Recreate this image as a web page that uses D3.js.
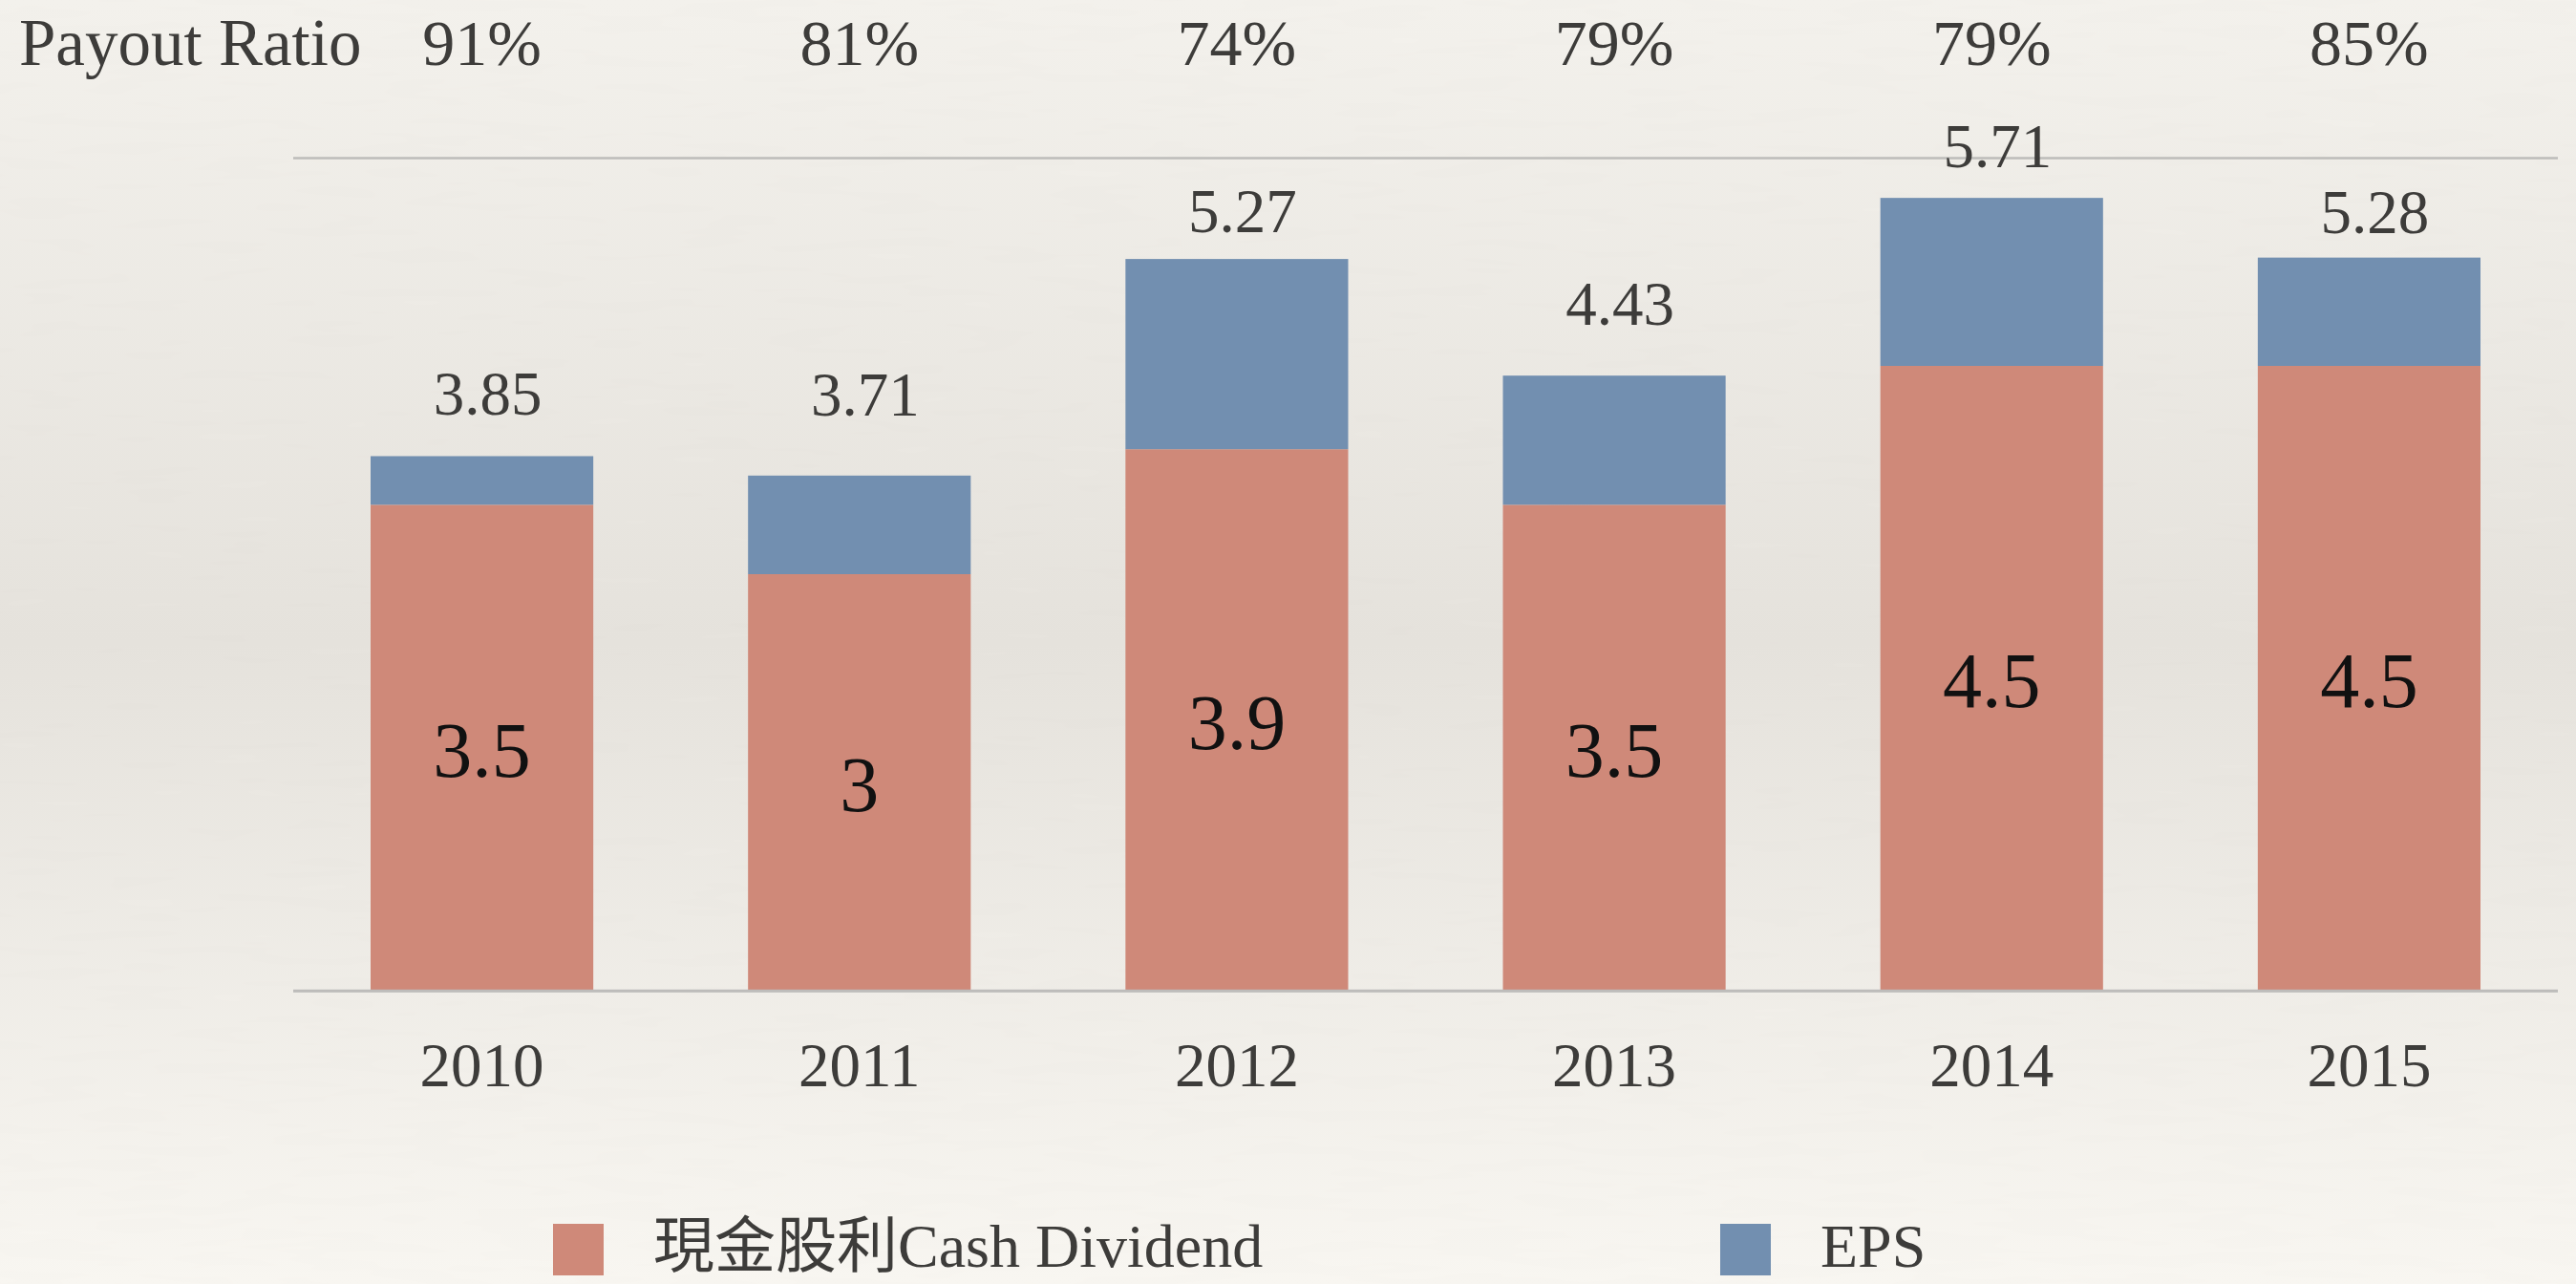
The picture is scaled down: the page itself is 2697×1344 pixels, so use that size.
<!DOCTYPE html>
<html>
<head>
<meta charset="utf-8">
<script src="https://cdn.jsdelivr.net/npm/d3@7"></script>
<style>
  html, body { margin: 0; padding: 0; overflow: hidden; }
  svg { display: block; }
</style>
</head>
<body>
<svg id="chart" width="2697" height="1344"></svg>
<script>
// data
const years = ['2010', '2011', '2012', '2013', '2014', '2015'];
const cashDividend = [3.5, 3, 3.9, 3.5, 4.5, 4.5];
const eps = [3.85, 3.71, 5.27, 4.43, 5.71, 5.28];
const payoutRatio = ['91%', '81%', '74%', '79%', '79%', '85%'];
const yTicks = [0, 6];

// how far each EPS label sits above its bar (px) - hand placed in the original
const epsLabelLift = [43, 63, 28, 53, 32, 26];

const dividendColor = '#cf8979';
const epsColor = '#728fb0';
const gridColor = '#bdbcba';
const textColor = '#3d3c3a';
const fontFamily = '"Liberation Serif", "Noto Sans CJK TC", serif';

const svg = d3.select('#chart');
const W = +svg.attr('width');
const H = +svg.attr('height');

// background paper
const defs = svg.append('defs');
const bg = defs.append('linearGradient')
  .attr('id', 'paper')
  .attr('x1', 0).attr('y1', 0).attr('x2', 0).attr('y2', 1);
bg.append('stop').attr('offset', '0%').attr('stop-color', '#f4f2ed');
bg.append('stop').attr('offset', '50%').attr('stop-color', '#e6e3dd');
bg.append('stop').attr('offset', '100%').attr('stop-color', '#f9f7f2');

const grain = defs.append('filter').attr('id', 'grain');
grain.append('feTurbulence')
  .attr('type', 'fractalNoise')
  .attr('baseFrequency', '0.01 0.08')
  .attr('numOctaves', 2)
  .attr('seed', 3);
grain.append('feColorMatrix')
  .attr('type', 'matrix')
  .attr('values', '0 0 0 0 0.45  0 0 0 0 0.43  0 0 0 0 0.4  0 0 0 0.04 0');

svg.append('rect').attr('width', W).attr('height', H).attr('fill', 'url(#paper)');
svg.append('rect').attr('width', W).attr('height', H).attr('filter', 'url(#grain)');

const margin = { top: 165, right: 19, bottom: 307, left: 307 };
const width = W - margin.left - margin.right;
const height = H - margin.top - margin.bottom;
const g = svg.append('g').attr('transform', `translate(${margin.left},${margin.top})`);

const x = d3.scaleBand()
  .domain(years)
  .range([0, width])
  .paddingInner(0.41)
  .paddingOuter(0.205);

const y = d3.scaleLinear()
  .domain([0, 6])
  .range([height, 0]);

// gridlines (only 0 and 6)
g.append('g')
  .attr('class', 'grid')
  .call(d3.axisLeft(y).tickValues(yTicks).tickSize(-width).tickFormat(''))
  .call(a => a.select('.domain').remove())
  .selectAll('line')
  .attr('stroke', gridColor)
  .attr('stroke-width', 2.5);

// stacked bars: dividend at bottom, rest of EPS on top
const rows = years.map((yr, i) => ({
  year: yr,
  dividend: cashDividend[i],
  rest: eps[i] - cashDividend[i]
}));
const series = d3.stack().keys(['dividend', 'rest'])(rows);
const colors = { dividend: dividendColor, rest: epsColor };

g.selectAll('.layer')
  .data(series)
  .enter()
  .append('g')
  .attr('class', 'layer')
  .attr('fill', d => colors[d.key])
  .selectAll('rect')
  .data(d => d)
  .enter()
  .append('rect')
  .attr('x', d => x(d.data.year))
  .attr('y', d => y(d[1]))
  .attr('width', x.bandwidth())
  .attr('height', d => y(d[0]) - y(d[1]));

// bottom axis line redrawn over the bars
g.append('line')
  .attr('x1', 0).attr('x2', width)
  .attr('y1', y(0)).attr('y2', y(0))
  .attr('stroke', gridColor)
  .attr('stroke-width', 2.5);

// dividend values inside the red part
g.selectAll('.div-label')
  .data(years)
  .enter()
  .append('text')
  .attr('class', 'div-label')
  .attr('x', d => x(d) + x.bandwidth() / 2)
  .attr('y', (d, i) => y(cashDividend[i] / 2) + 30)
  .attr('text-anchor', 'middle')
  .style('font-family', fontFamily)
  .style('font-size', '82px')
  .style('fill', '#111')
  .text((d, i) => cashDividend[i]);

// EPS values above bars
g.selectAll('.eps-label')
  .data(years)
  .enter()
  .append('text')
  .attr('class', 'eps-label')
  .attr('x', d => x(d) + x.bandwidth() / 2 + 6)
  .attr('y', (d, i) => y(eps[i]) - epsLabelLift[i])
  .attr('text-anchor', 'middle')
  .style('font-family', fontFamily)
  .style('font-size', '65px')
  .style('fill', textColor)
  .text((d, i) => eps[i].toFixed(2));

// year labels
g.append('g')
  .attr('transform', `translate(0,${height})`)
  .call(d3.axisBottom(x).tickSize(0).tickPadding(0))
  .call(a => a.select('.domain').remove())
  .selectAll('text')
  .attr('y', 100)
  .attr('dy', 0)
  .style('font-family', fontFamily)
  .style('font-size', '65px')
  .style('fill', textColor);

// payout ratio row
svg.append('text')
  .attr('x', 20)
  .attr('y', 68)
  .style('font-family', fontFamily)
  .style('font-size', '69px')
  .style('fill', textColor)
  .text('Payout Ratio');

svg.selectAll('.payout')
  .data(years)
  .enter()
  .append('text')
  .attr('class', 'payout')
  .attr('x', d => margin.left + x(d) + x.bandwidth() / 2)
  .attr('y', 68)
  .attr('text-anchor', 'middle')
  .style('font-family', fontFamily)
  .style('font-size', '68px')
  .style('fill', textColor)
  .text((d, i) => payoutRatio[i]);

// legend
const legendItems = [
  { label: '現金股利Cash Dividend', color: dividendColor, x: 579 },
  { label: 'EPS', color: epsColor, x: 1801 }
];
const legend = svg.append('g').attr('class', 'legend');
legend.selectAll('rect')
  .data(legendItems)
  .enter()
  .append('rect')
  .attr('x', d => d.x)
  .attr('y', 1281)
  .attr('width', 53)
  .attr('height', 54)
  .attr('fill', d => d.color);
legend.selectAll('text')
  .data(legendItems)
  .enter()
  .append('text')
  .attr('x', d => d.x + 105)
  .attr('y', 1326)
  .style('font-family', fontFamily)
  .style('font-size', '64px')
  .style('fill', textColor)
  .text(d => d.label);
</script>
</body>
</html>
